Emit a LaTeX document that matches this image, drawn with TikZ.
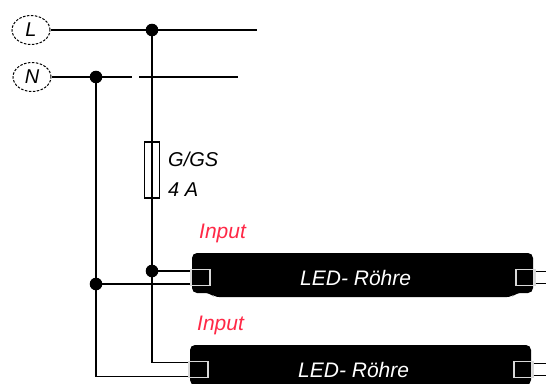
\documentclass[tikz,border=0pt]{standalone}
\usepackage{fontspec}
\setsansfont{Liberation Sans}
\usetikzlibrary{shapes.geometric,calc}
\definecolor{inputred}{RGB}{255,40,70}
\tikzset{
  wire/.style={line width=1.5pt},
  terminal/.style={ellipse,draw,dashed,dash pattern=on 2.5pt off 1.5pt,line width=1pt,
    minimum width=38pt,minimum height=29pt,inner sep=0pt,font=\fontsize{20}{24}\sffamily\itshape},
  fuse/.style={draw,line width=1.3pt,minimum width=15pt,minimum height=56pt,inner sep=0pt},
  socket/.style={draw=white!85!black,line width=1.3pt,minimum width=19pt,minimum height=16pt,inner sep=0pt},
  lbl/.style={font=\fontsize{20}{24}\sffamily\itshape,inner sep=0pt,anchor=base west},
  biglbl/.style={lbl,font=\fontsize{21}{25}\sffamily\itshape},
}
\begin{document}
\begin{tikzpicture}[x=1pt,y=-1pt]
\useasboundingbox (0,0) rectangle (546,383);
\clip (0,0) rectangle (546,383);
\node[terminal] (L) at (31,30) {L};
\node[terminal] (N) at (32,77) {N};
\coordinate (jL) at (152,30);
\coordinate (Lend) at (257,30);
\coordinate (jN) at (96,77);
\coordinate (Ngap1) at (131.5,77);
\coordinate (Ngap2) at (139,77);
\coordinate (Nend) at (238,77);
\draw[wire] (L) -- (Lend);
\draw[wire] (N) -- (Ngap1);
\draw[wire] (Ngap2) -- (Nend);
% fuse
\node[fuse] (F) at (152,170) {};
\node[lbl] (fusetype) at (168,166.5) {G/GS};
\node[lbl] (fuseamp) at (168,196.5) {4 A};
% tubes
\foreach \dx/\dy/\i in {0/0/1,-2/92/2}{
  \begin{scope}[shift={(\dx,\dy)}]
  \fill[rounded corners=5pt] (192,253) -- (533,253) -- (533,293) -- (516,293) -- (512,297)
    -- (214,297) -- (210,293) -- (192,293) -- cycle;
  \node[socket] (socketL\i) at (200.5,277.5) {};
  \node[socket] (socketR\i) at (525.5,277.5) {};
  \node[biglbl,white] (tube\i) at (300,285) {LED- Röhre};
  \node[biglbl,inputred] (input\i) at (199,238) {Input};
  \coordinate (outA\i) at (548,271.5);
  \coordinate (outB\i) at (548,283.5);
  \end{scope}
  \draw[wire] (socketR\i.east |- outA\i) -- (outA\i);
  \draw[wire] (socketR\i.east |- outB\i) -- (outB\i);
}
% wiring
\coordinate (jF) at (152,271);
\coordinate (jN2) at (96,284);
\draw[wire] (jL) -- (F.north);
\draw[wire] (F.north) -- (F.south);
\draw[wire] (F.south) -- (jF);
\draw[wire] (jN) -- (jN2);
\draw[wire] (jF) -- (jF -| socketL1.west);
\draw[wire] (jN2) -- (jN2 -| socketL1.west);
\draw[wire] (jF) |- ([yshift=-1.5pt]socketL2.north west);
\draw[wire] (jN2) |- ([yshift=1.5pt]socketL2.south west);
\foreach \j in {jL,jN,jF,jN2}
  \fill (\j) circle (6.3);
\end{tikzpicture}
\end{document}
